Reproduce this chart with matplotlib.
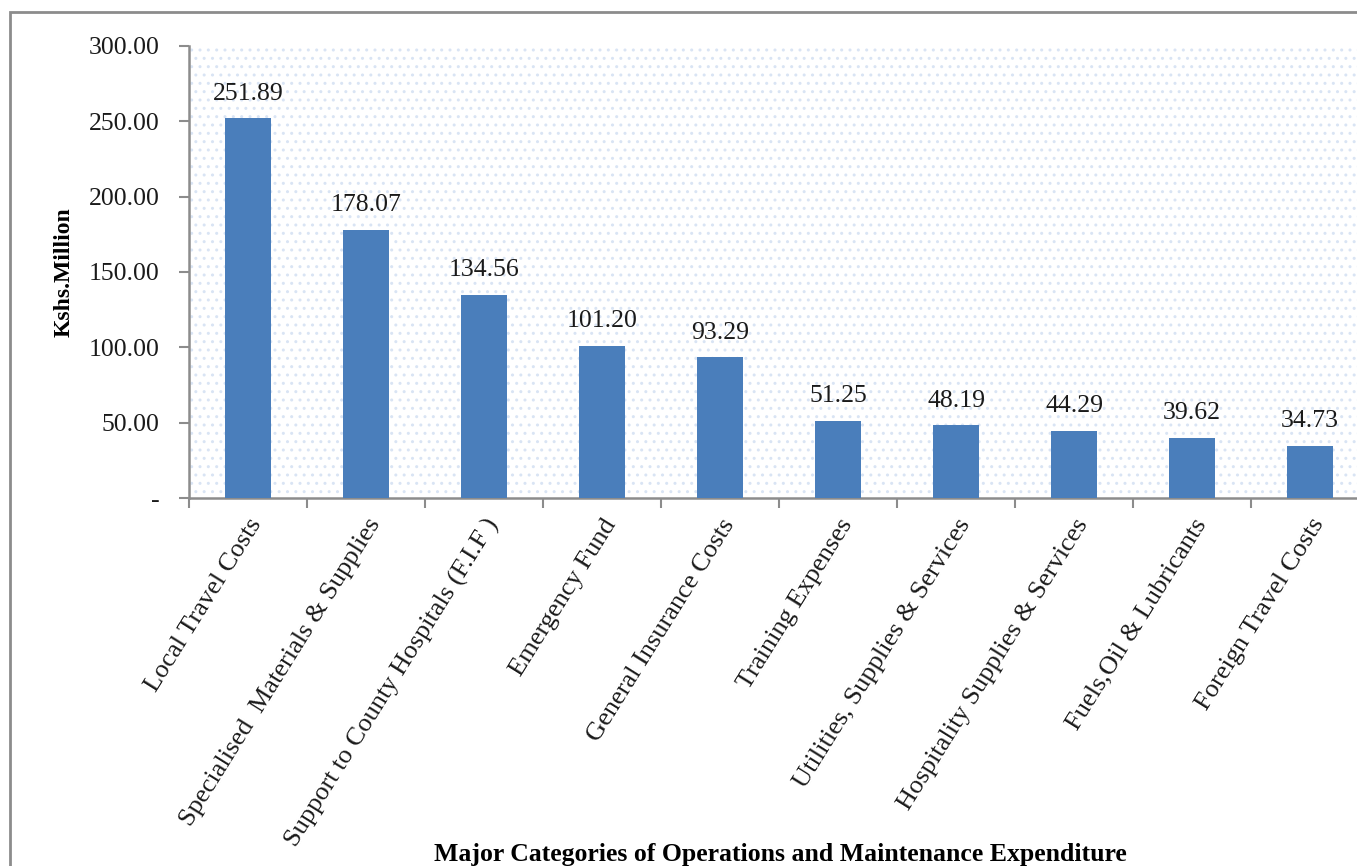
import matplotlib
matplotlib.use("Agg")
import matplotlib.pyplot as plt
from matplotlib.patches import Rectangle
from matplotlib.ticker import FixedLocator

categories = [
    "Local Travel Costs",
    "Specialised  Materials & Supplies",
    "Support to County Hospitals (F.I.F )",
    "Emergency Fund",
    "General Insurance Costs",
    "Training Expenses",
    "Utilities, Supplies & Services",
    "Hospitality Supplies & Services",
    "Fuels,Oil & Lubricants",
    "Foreign Travel Costs",
]
values = [251.89, 178.07, 134.56, 101.20, 93.29, 51.25, 48.19, 44.29, 39.62, 34.73]
y_ticks = [0, 50, 100, 150, 200, 250, 300]
y_tick_labels = ["-", "50.00", "100.00", "150.00", "200.00", "250.00", "300.00"]

plt.rcParams["font.family"] = ["Liberation Serif", "DejaVu Serif"]
plt.rcParams["hatch.linewidth"] = 1.0

W, H = 1357, 866
fig = plt.figure(figsize=(W / 100, H / 100), dpi=100)

# outer chart frame
fig.patches.append(Rectangle((10 / W, -0.05), 1.2, (H - 12) / H + 0.05,
                             transform=fig.transFigure, fill=False,
                             edgecolor="#8c8c8c", linewidth=2, zorder=0))

left, right, top, bottom = 189, 1369, 46, 498
ax = fig.add_axes([left / W, 1 - bottom / H, (right - left) / W, (bottom - top) / H])

# dotted plot-area fill
ax.set_facecolor("white")
ax.patch.set_hatch("..")
ax.patch.set_edgecolor("#d9e4f4")
ax.patch.set_linewidth(0)

x = list(range(len(categories)))
ax.bar(x, values, width=0.39, color="#4A7EBB", zorder=3)

for xi, v in zip(x, values):
    ax.annotate(f"{v:.2f}", (xi, v), xytext=(0, 10), textcoords="offset points",
                ha="center", va="bottom", fontsize=18.5, color="#1a1a1a")

ax.set_xlim(-0.5, len(categories) - 0.5)
ax.set_ylim(0, 300)
ax.set_yticks(y_ticks)
ax.set_yticklabels(y_tick_labels, fontsize=18.5, color="#1a1a1a")

ax.set_xticks(x)
ax.set_xticklabels(categories, rotation=58, ha="right", va="top",
                   rotation_mode="anchor", fontsize=19, color="#1a1a1a")
ax.tick_params(axis="x", length=0, pad=12)
ax.xaxis.set_minor_locator(FixedLocator([i - 0.5 for i in range(len(categories) + 1)]))
ax.tick_params(axis="x", which="minor", length=7, width=1.5, color="#8c8c8c", direction="out")
ax.tick_params(axis="y", length=7, width=1.5, color="#8c8c8c", pad=14)

for s in ["top", "right"]:
    ax.spines[s].set_visible(False)
for s in ["left", "bottom"]:
    ax.spines[s].set_color("#8c8c8c")
    ax.spines[s].set_linewidth(1.8)

ax.set_ylabel("Kshs.Million", fontsize=17, fontweight="bold", labelpad=10)
fig.text(780 / W, 1 - 855 / H, "Major Categories of Operations and Maintenance Expenditure",
         ha="center", va="center", fontsize=18.5, fontweight="bold")

fig.savefig("out.png", dpi=100)
